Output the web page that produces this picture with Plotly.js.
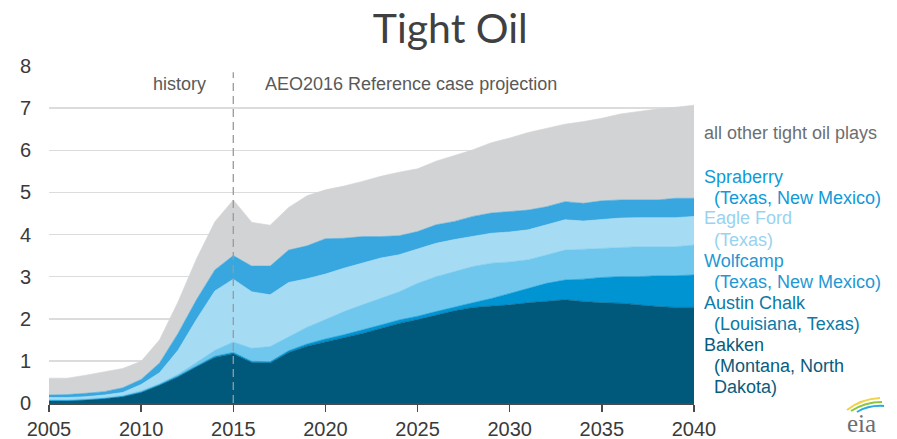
<!DOCTYPE html>
<html>
<head>
<meta charset="utf-8">
<script src="https://cdn.plot.ly/plotly-3.0.1.min.js"></script>
<style>
  html, body { margin: 0; padding: 0; background: #ffffff; }
  #chart { width: 897px; height: 439px; }
</style>
</head>
<body>
<div id="chart"></div>
<script>
// U.S. tight oil production by play, million barrels per day
const years = [2005, 2006, 2007, 2008, 2009, 2010, 2011, 2012, 2013, 2014,
               2015, 2016, 2017, 2018, 2019, 2020, 2021, 2022, 2023, 2024,
               2025, 2026, 2027, 2028, 2029, 2030, 2031, 2032, 2033, 2034,
               2035, 2036, 2037, 2038, 2039, 2040];

const bakken = [0.05, 0.05, 0.07, 0.10, 0.15, 0.25, 0.42, 0.62, 0.86, 1.08,
                1.17, 0.96, 0.95, 1.20, 1.35, 1.45, 1.54, 1.65, 1.77, 1.89,
                1.98, 2.09, 2.19, 2.27, 2.30, 2.33, 2.38, 2.41, 2.45, 2.41,
                2.38, 2.37, 2.33, 2.29, 2.27, 2.27];

const austinChalk = [0.01, 0.01, 0.01, 0.01, 0.01, 0.01, 0.02, 0.02, 0.02, 0.03,
                     0.03, 0.03, 0.03, 0.04, 0.05, 0.07, 0.08, 0.08, 0.08, 0.08,
                     0.08, 0.08, 0.09, 0.11, 0.18, 0.27, 0.34, 0.43, 0.47, 0.53,
                     0.60, 0.63, 0.67, 0.73, 0.75, 0.77];

const wolfcamp = [0.02, 0.02, 0.02, 0.02, 0.02, 0.03, 0.02, 0.04, 0.08, 0.14,
                  0.25, 0.31, 0.36, 0.34, 0.40, 0.46, 0.55, 0.60, 0.63, 0.67,
                  0.78, 0.83, 0.84, 0.86, 0.84, 0.75, 0.68, 0.68, 0.71, 0.71,
                  0.69, 0.70, 0.71, 0.69, 0.69, 0.71];

const eagleFord = [0.05, 0.05, 0.05, 0.06, 0.07, 0.15, 0.26, 0.57, 1.02, 1.41,
                   1.49, 1.34, 1.23, 1.28, 1.15, 1.08, 1.03, 0.99, 0.96, 0.88,
                   0.81, 0.79, 0.76, 0.71, 0.71, 0.71, 0.71, 0.71, 0.72, 0.67,
                   0.69, 0.69, 0.69, 0.69, 0.69, 0.68];

const spraberry = [0.06, 0.07, 0.08, 0.08, 0.11, 0.12, 0.23, 0.40, 0.47, 0.50,
                   0.56, 0.61, 0.68, 0.77, 0.78, 0.84, 0.71, 0.63, 0.51, 0.45,
                   0.42, 0.44, 0.43, 0.48, 0.48, 0.48, 0.47, 0.43, 0.43, 0.42,
                   0.44, 0.43, 0.42, 0.42, 0.46, 0.43];

const otherPlays = [0.40, 0.39, 0.43, 0.47, 0.46, 0.43, 0.55, 0.75, 0.97, 1.14,
                    1.32, 1.04, 0.97, 1.01, 1.19, 1.16, 1.24, 1.31, 1.43, 1.51,
                    1.49, 1.51, 1.57, 1.58, 1.67, 1.75, 1.84, 1.86, 1.84, 1.94,
                    1.96, 2.04, 2.10, 2.16, 2.16, 2.21];

const yTicks = [0, 1, 2, 3, 4, 5, 6, 7, 8];
const xTicks = [2005, 2010, 2015, 2020, 2025, 2030, 2035, 2040];

// Stack order, bottom to top
const series = [
  { name: 'Bakken', values: bakken, color: '#00587a' },
  { name: 'Austin Chalk', values: austinChalk, color: '#0094d2' },
  { name: 'Wolfcamp', values: wolfcamp, color: '#6fc7ee' },
  { name: 'Eagle Ford', values: eagleFord, color: '#a6dbf4' },
  { name: 'Spraberry', values: spraberry, color: '#38a7df' },
  { name: 'all other tight oil plays', values: otherPlays, color: '#d2d3d5' }
];

const traces = series.map(s => ({
  type: 'scatter',
  mode: 'lines',
  name: s.name,
  x: years,
  y: s.values,
  stackgroup: 'plays',
  line: { width: 0.6, color: s.color, shape: 'linear' },
  fillcolor: s.color,
  hoverinfo: 'x+y+name'
}));

// Right-hand labels: [text, pixel-row centre, colour, indented]
const labelRows = [
  ['all other tight oil plays', 133, '#6d6e71', false],
  ['Spraberry', 177, '#0f9ad7', false],
  ['(Texas, New Mexico)', 198, '#0f9ad7', true],
  ['Eagle Ford', 218, '#98d3ef', false],
  ['(Texas)', 240, '#98d3ef', true],
  ['Wolfcamp', 261, '#1f98d3', false],
  ['(Texas, New Mexico)', 282, '#1f98d3', true],
  ['Austin Chalk', 303, '#0b7aa6', false],
  ['(Louisiana, Texas)', 324, '#0b7aa6', true],
  ['Bakken', 345, '#0a5c7c', false],
  ['(Montana, North', 366, '#0a5c7c', true],
  ['Dakota)', 387, '#0a5c7c', true]
];

const plotTop = 66, plotBottom = 403, plotLeft = 49, plotRight = 694;
const plotH = plotBottom - plotTop, plotW = plotRight - plotLeft;

const annotations = labelRows.map(r => ({
  xref: 'paper', yref: 'paper',
  x: (702 - plotLeft) / plotW,
  y: (plotBottom - r[1]) / plotH,
  xanchor: 'left', yanchor: 'middle',
  xshift: r[3] ? 10 : 0,
  text: r[0],
  showarrow: false,
  font: { family: 'Liberation Sans, Arial, sans-serif', size: 18, color: r[2] }
}));

annotations.push(
  {
    xref: 'x', yref: 'paper', x: 2015, y: (plotBottom - 84) / plotH,
    xanchor: 'right', yanchor: 'middle', xshift: -25,
    text: 'history', showarrow: false,
    font: { family: 'Liberation Sans, Arial, sans-serif', size: 18, color: '#595959' }
  },
  {
    xref: 'x', yref: 'paper', x: 2015, y: (plotBottom - 84) / plotH,
    xanchor: 'left', yanchor: 'middle', xshift: 30,
    text: 'AEO2016 Reference case projection', showarrow: false,
    font: { family: 'Liberation Sans, Arial, sans-serif', size: 18, color: '#595959' }
  },
  {
    xref: 'paper', yref: 'paper',
    x: (861 - plotLeft) / plotW, y: (plotBottom - 423) / plotH,
    xanchor: 'center', yanchor: 'middle',
    text: 'eia', showarrow: false,
    font: { family: 'Liberation Serif, DejaVu Serif, serif', size: 25, color: '#6d6e71' }
  }
);

// Small swoosh above the agency mark, drawn in paper units
function px(xp) { return ((xp - plotLeft) / plotW).toFixed(4); }
function py(yp) { return ((plotBottom - yp) / plotH).toFixed(4); }
function arc(x0, y0, cx, cy, x1, y1) {
  return 'M' + px(x0) + ',' + py(y0) + ' Q' + px(cx) + ',' + py(cy) + ' ' + px(x1) + ',' + py(y1);
}

const shapes = [
  {
    type: 'line', xref: 'x', yref: 'y',
    x0: 2015, x1: 2015, y0: 0, y1: 7.85,
    line: { color: '#9a9a9a', width: 1.3, dash: '8px,5px' },
    layer: 'above'
  },
  { type: 'path', xref: 'paper', yref: 'paper', path: arc(847, 410, 861, 399, 880, 398),
    line: { color: '#f2d14a', width: 2 } },
  { type: 'path', xref: 'paper', yref: 'paper', path: arc(851, 411, 865, 402, 882, 402),
    line: { color: '#8cc63f', width: 2 } },
  { type: 'path', xref: 'paper', yref: 'paper', path: arc(857, 412, 869, 405, 884, 406),
    line: { color: '#29a9e0', width: 2 } }
];

const layout = {
  width: 897,
  height: 439,
  margin: { l: plotLeft, r: 897 - plotRight, t: plotTop, b: 439 - plotBottom, pad: 0 },
  paper_bgcolor: '#ffffff',
  plot_bgcolor: '#ffffff',
  showlegend: false,
  title: {
    text: 'Tight Oil',
    x: 0.502, xanchor: 'center',
    y: 0.935, yanchor: 'middle',
    font: { family: 'Lato, Open Sans, sans-serif', size: 41, color: '#404040' }
  },
  xaxis: {
    range: [2005, 2040],
    tickvals: xTicks,
    ticktext: xTicks.map(String),
    showgrid: false,
    zeroline: false,
    showline: true,
    linecolor: '#4a4a4a',
    linewidth: 1.5,
    ticks: 'outside',
    ticklen: 7,
    tickwidth: 1.5,
    tickcolor: '#4a4a4a',
    tickfont: { family: 'Liberation Sans, Arial, sans-serif', size: 20, color: '#3a3a3a' },
    fixedrange: true
  },
  yaxis: {
    range: [0, 8],
    tickvals: yTicks,
    ticktext: yTicks.map(String),
    showgrid: true,
    gridcolor: '#dcdcdc',
    gridwidth: 1.5,
    zeroline: false,
    showline: false,
    ticks: '',
    ticklabelstandoff: 17,
    tickfont: { family: 'Liberation Sans, Arial, sans-serif', size: 20, color: '#3a3a3a' },
    fixedrange: true
  },
  annotations: annotations,
  shapes: shapes
};

Plotly.newPlot('chart', traces, layout, { displayModeBar: false, staticPlot: true });
</script>
</body>
</html>
